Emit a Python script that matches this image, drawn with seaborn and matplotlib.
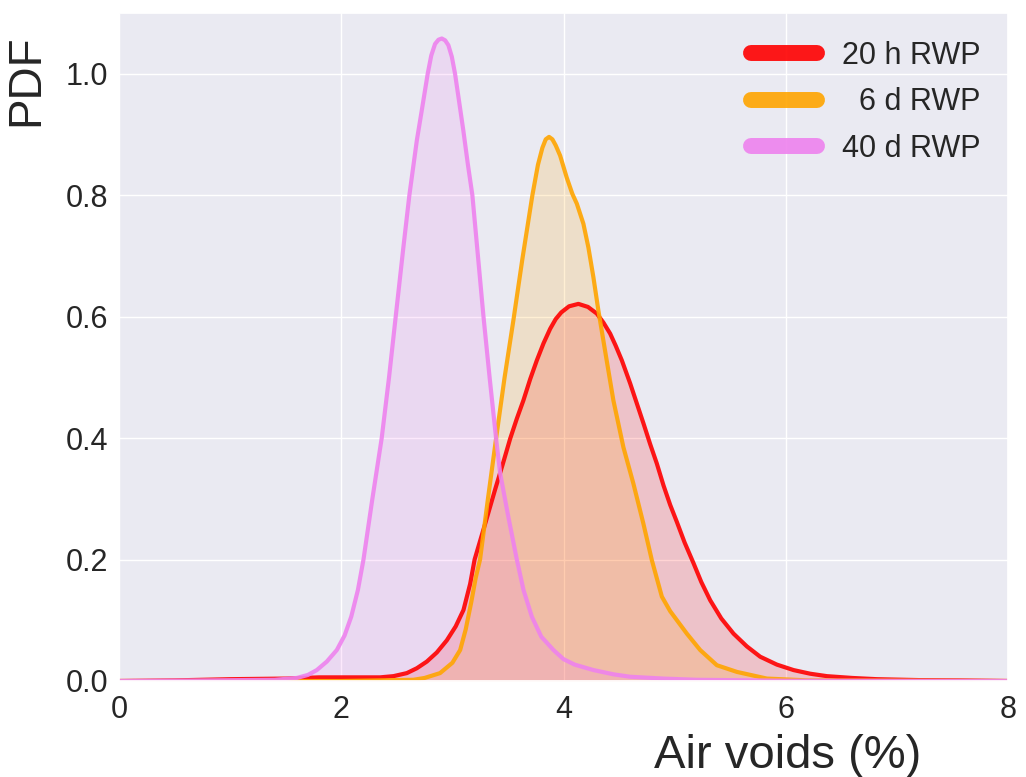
import matplotlib
matplotlib.use("Agg")
import matplotlib.pyplot as plt
import seaborn as sns
import pandas as pd

# ---- data ----
labels = ["20 h RWP", "  6 d RWP", "40 d RWP"]
colors = ["red", "orange", "violet"]

x_20h = [0.0, 0.5, 1.0, 1.5, 1.8, 2.05, 2.35, 2.47, 2.59, 2.68, 2.77, 2.86, 2.95,
         3.03, 3.10, 3.16, 3.20, 3.30, 3.384, 3.45, 3.52, 3.58, 3.639, 3.70, 3.76,
         3.82, 3.88, 3.93, 3.98, 4.05, 4.134, 4.22, 4.30, 4.36, 4.42, 4.47, 4.525,
         4.60, 4.66, 4.72, 4.78, 4.84, 4.90, 4.96, 5.02, 5.09, 5.17, 5.24, 5.32,
         5.42, 5.53, 5.65, 5.77, 5.92, 6.07, 6.22, 6.37, 6.6, 6.82, 7.2, 7.57, 8.0]
y_20h = [0.0, 0.001, 0.003, 0.004, 0.006, 0.006, 0.006, 0.008, 0.013, 0.021, 0.032,
         0.047, 0.067, 0.09, 0.117, 0.16, 0.2, 0.262, 0.315, 0.355, 0.399, 0.432,
         0.462, 0.497, 0.528, 0.556, 0.58, 0.596, 0.607, 0.617, 0.621, 0.616, 0.605,
         0.59, 0.572, 0.552, 0.528, 0.49, 0.457, 0.424, 0.39, 0.358, 0.322, 0.29,
         0.262, 0.228, 0.194, 0.163, 0.133, 0.103, 0.078, 0.057, 0.040, 0.027,
         0.018, 0.012, 0.008, 0.005, 0.003, 0.0015, 0.001, 0.0]

x_6d = [0.0, 2.0, 2.65, 2.75, 2.889, 3.0, 3.07, 3.12, 3.17, 3.21, 3.249, 3.32,
        3.393, 3.47, 3.549, 3.63, 3.72, 3.77, 3.81, 3.84, 3.87, 3.90, 3.93, 3.97,
        4.029, 4.08, 4.12, 4.179, 4.224, 4.269, 4.314, 4.374, 4.449, 4.539, 4.629,
        4.719, 4.795, 4.885, 4.96, 5.11, 5.23, 5.38, 5.56, 5.83, 6.2, 8.0]
y_6d = [0.0, 0.0, 0.002, 0.005, 0.013, 0.03, 0.051, 0.085, 0.13, 0.17, 0.2, 0.3,
        0.399, 0.5, 0.594, 0.695, 0.8, 0.85, 0.878, 0.892, 0.896, 0.892, 0.882,
        0.865, 0.829, 0.802, 0.786, 0.753, 0.714, 0.665, 0.61, 0.544, 0.462, 0.385,
        0.325, 0.259, 0.199, 0.139, 0.115, 0.078, 0.051, 0.026, 0.015, 0.004,
        0.001, 0.0]

x_40d = [0.0, 0.8, 1.4, 1.6, 1.70, 1.78, 1.87, 1.96, 2.03, 2.09, 2.15, 2.2, 2.28,
         2.364, 2.43, 2.49, 2.559, 2.613, 2.68, 2.724, 2.778, 2.81, 2.844, 2.875,
         2.905, 2.935, 2.964, 2.995, 3.024, 3.06, 3.099, 3.14, 3.18, 3.23, 3.28,
         3.335, 3.393, 3.43, 3.504, 3.58, 3.64, 3.715, 3.80, 3.91, 4.0, 4.1, 4.27,
         4.45, 4.6, 4.9, 5.2, 6.0, 8.0]
y_40d = [0.0, 0.001, 0.002, 0.005, 0.01, 0.018, 0.032, 0.051, 0.075, 0.106, 0.15,
         0.2, 0.3, 0.4, 0.5, 0.6, 0.714, 0.8, 0.89, 0.939, 1.0, 1.03, 1.049, 1.056,
         1.058, 1.055, 1.047, 1.028, 1.0, 0.955, 0.906, 0.85, 0.8, 0.7, 0.6, 0.5,
         0.4, 0.342, 0.27, 0.2, 0.15, 0.106, 0.073, 0.051, 0.036, 0.027, 0.018,
         0.011, 0.007, 0.004, 0.002, 0.0005, 0.0]

xs = [x_20h, x_6d, x_40d]
ys = [y_20h, y_6d, y_40d]

x_ticks = [0, 2, 4, 6, 8]
y_ticks = [0.0, 0.2, 0.4, 0.6, 0.8, 1.0]

# ---- style ----
sns.set_theme(style="darkgrid")
plt.rcParams["font.family"] = ["Liberation Sans", "DejaVu Sans"]

fig = plt.figure(figsize=(10.26, 7.77), dpi=100)
ax = fig.add_axes([119 / 1026, 1 - 681 / 777, 889 / 1026, 668 / 777])

for x, y, c, lab in zip(xs, ys, colors, labels):
    df = pd.DataFrame({"x": x, "y": y})
    sns.lineplot(data=df, x="x", y="y", color=c, lw=3, alpha=0.9, ax=ax,
                 label=lab, sort=False, estimator=None,
                 solid_joinstyle="round", solid_capstyle="round")
    ax.fill_between(df["x"], df["y"], color=c, alpha=0.17, lw=0)

ax.set_xlim(0, 8)
ax.set_ylim(0, 1.1)
ax.set_xticks(x_ticks)
ax.set_xticklabels([f"{v:d}" for v in x_ticks])
ax.set_yticks(y_ticks)
ax.set_yticklabels([f"{v:.1f}" for v in y_ticks])
ax.tick_params(axis="both", labelsize=22, colors="#262626")
ax.tick_params(axis="x", pad=4)
ax.tick_params(axis="y", pad=2)

ax.set_xlabel("Air voids (%)", fontsize=34, color="#262626")
ax.set_ylabel("PDF", fontsize=33, color="#262626")
ax.xaxis.set_label_coords(0.7525, -0.08)
ax.yaxis.set_label_coords(-0.08, 0.90)

leg = ax.legend(loc="upper right", fontsize=22, frameon=False,
                handlelength=2.17, handletextpad=0.82, labelspacing=0.55)
for line in leg.get_lines():
    line.set_linewidth(11.5)
    line.set_solid_capstyle("round")
for t in leg.get_texts():
    t.set_color("#262626")

fig.savefig("out.png", dpi=100)
